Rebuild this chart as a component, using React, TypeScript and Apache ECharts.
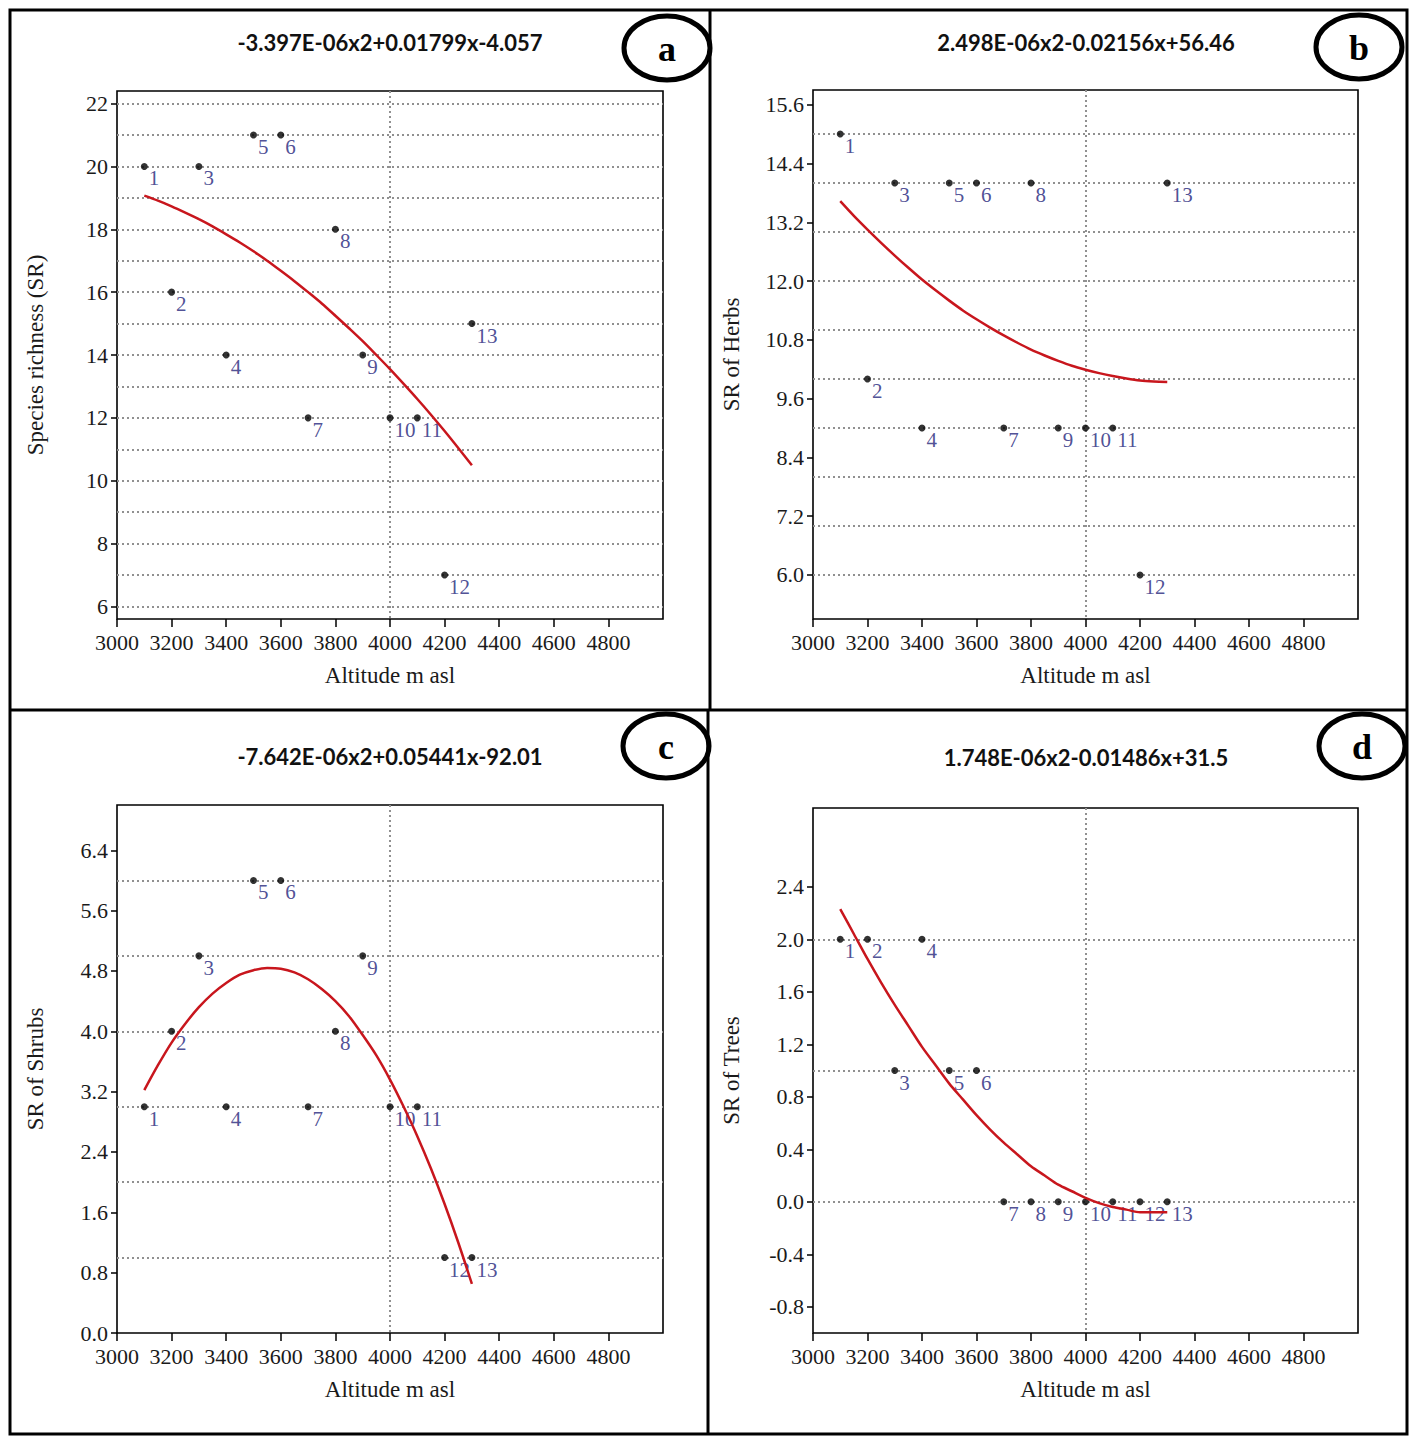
import React, { useEffect, useRef } from "react";
import * as echarts from "echarts";

// ---- data ----
const altitude = [3100, 3200, 3300, 3400, 3500, 3600, 3700, 3800, 3900, 4000, 4100, 4200, 4300];
const sites = ["1", "2", "3", "4", "5", "6", "7", "8", "9", "10", "11", "12", "13"];

const srTotal = [20, 16, 20, 14, 21, 21, 12, 18, 14, 12, 12, 7, 15];
const srHerbs = [15, 10, 14, 9, 14, 14, 9, 14, 9, 9, 9, 6, 14];
const srShrubs = [3, 4, 5, 3, 6, 6, 3, 4, 5, 3, 3, 1, 1];
const srTrees = [2, 2, 1, 2, 1, 1, 0, 0, 0, 0, 0, 0, 0];

// fitted curves, every 50 m
const fitAltitude = [
  3100, 3150, 3200, 3250, 3300, 3350, 3400, 3450, 3500, 3550, 3600, 3650, 3700,
  3750, 3800, 3850, 3900, 3950, 4000, 4050, 4100, 4150, 4200, 4250, 4300,
];
const fitTotal = [
  19.07, 18.91, 18.73, 18.53, 18.32, 18.09, 17.84, 17.58, 17.3, 17.0, 16.68, 16.35, 16.0,
  15.64, 15.25, 14.85, 14.44, 14.0, 13.55, 13.08, 12.6, 12.1, 11.58, 11.04, 10.49,
];
const fitHerbs = [
  13.63, 13.33, 13.05, 12.78, 12.52, 12.27, 12.03, 11.81, 11.6, 11.4, 11.22, 11.05, 10.89,
  10.74, 10.6, 10.48, 10.37, 10.27, 10.19, 10.12, 10.06, 10.01, 9.97, 9.95, 9.94,
];
const fitShrubs = [
  3.22, 3.55, 3.85, 4.1, 4.32, 4.5, 4.64, 4.75, 4.81, 4.84, 4.83, 4.78, 4.69,
  4.56, 4.4, 4.2, 3.95, 3.68, 3.36, 3.0, 2.61, 2.18, 1.71, 1.2, 0.65,
];
const fitTrees = [
  2.23, 2.04, 1.85, 1.67, 1.5, 1.34, 1.18, 1.04, 0.9, 0.78, 0.66, 0.55, 0.45,
  0.36, 0.27, 0.2, 0.13, 0.08, 0.03, -0.01, -0.04, -0.06, -0.08, -0.08, -0.08,
];

const equations = [
  "-3.397E-06x2+0.01799x-4.057",
  "2.498E-06x2-0.02156x+56.46",
  "-7.642E-06x2+0.05441x-92.01",
  "1.748E-06x2-0.01486x+31.5",
];
const panelLetters = ["a", "b", "c", "d"];
const yNames = ["Species richness (SR)", "SR of Herbs", "SR of Shrubs", "SR of Trees"];
const xName = "Altitude m asl";

const xTicks = [3000, 3200, 3400, 3600, 3800, 4000, 4200, 4400, 4600, 4800];
const xGridLines = [4000];

const yTicksA = [6, 8, 10, 12, 14, 16, 18, 20, 22];
const yTicksB = [6.0, 7.2, 8.4, 9.6, 10.8, 12.0, 13.2, 14.4, 15.6];
const yTicksC = [0, 0.8, 1.6, 2.4, 3.2, 4.0, 4.8, 5.6, 6.4];
const yTicksD = [-0.8, -0.4, 0, 0.4, 0.8, 1.2, 1.6, 2.0, 2.4];

const yGridA = [6, 7, 8, 9, 10, 11, 12, 13, 14, 15, 16, 17, 18, 19, 20, 21, 22];
const yGridB = [6, 7, 8, 9, 10, 11, 12, 13, 14, 15];
const yGridC = [1, 2, 3, 4, 5, 6];
const yGridD = [0, 1, 2];

const yRangeA = [5.6, 22.4];
const yRangeB = [5.1, 15.9];
const yRangeC = [0, 7];
const yRangeD = [-1, 3];

// ---- layout ----
const layout = [
  { left: 117, top: 91, width: 546, height: 528, decimals: 0, tx: 390, ty: 42, cx: 667, cy: 48 },
  { left: 813, top: 90, width: 545, height: 529, decimals: 1, tx: 1086, ty: 42, cx: 1359, cy: 47 },
  { left: 117, top: 805, width: 546, height: 528, decimals: 1, tx: 390, ty: 756, cx: 666, cy: 746 },
  { left: 813, top: 808, width: 545, height: 525, decimals: 1, tx: 1086, ty: 757, cx: 1362, cy: 746 },
];

const SERIF = '"Liberation Serif", "Times New Roman", serif';
const SANS = 'Lato, "Open Sans", sans-serif';
const dotted = { color: "#909090", width: 2, type: [2, 3] as number[] };

function buildOption() {
  const values = [srTotal, srHerbs, srShrubs, srTrees];
  const fits = [fitTotal, fitHerbs, fitShrubs, fitTrees];
  const yTicks = [yTicksA, yTicksB, yTicksC, yTicksD];
  const yGrids = [yGridA, yGridB, yGridC, yGridD];
  const yRanges = [yRangeA, yRangeB, yRangeC, yRangeD];

  const grid: any[] = [];
  const xAxis: any[] = [];
  const yAxis: any[] = [];
  const series: any[] = [];
  const graphic: any[] = [];

  layout.forEach((L, i) => {
    grid.push({
      left: L.left,
      top: L.top,
      width: L.width,
      height: L.height,
      show: true,
      borderColor: "#000",
      borderWidth: 1.6,
      backgroundColor: "transparent",
      containLabel: false,
      outerBoundsMode: "none",
    });

    xAxis.push({
      type: "value",
      gridIndex: i,
      min: 3000,
      max: 5000,
      position: "bottom",
      axisLine: { show: false, onZero: false },
      axisTick: {
        show: true,
        inside: false,
        length: 8,
        customValues: xTicks,
        lineStyle: { color: "#000", width: 1.5 },
      },
      axisLabel: {
        show: true,
        customValues: xTicks,
        margin: 12,
        color: "#1a1a1a",
        fontFamily: SERIF,
        fontSize: 22,
        formatter: (v: number) => String(Math.round(v)),
      },
      splitLine: { show: false },
      name: xName,
      nameLocation: "middle",
      nameGap: 45,
      nameMoveOverlap: false,
      nameTextStyle: { color: "#1a1a1a", fontFamily: SERIF, fontSize: 23 },
    });
    xAxis.push({
      type: "value",
      gridIndex: i,
      min: 3000,
      max: 5000,
      position: "bottom",
      axisLine: { show: false, onZero: false },
      axisTick: { show: false, customValues: xGridLines },
      axisLabel: { show: false, customValues: xGridLines },
      splitLine: { show: true, lineStyle: dotted },
    });

    yAxis.push({
      type: "value",
      gridIndex: i,
      min: yRanges[i][0],
      max: yRanges[i][1],
      position: "left",
      axisLine: { show: false, onZero: false },
      axisTick: {
        show: true,
        inside: false,
        length: 6,
        customValues: yTicks[i],
        lineStyle: { color: "#000", width: 1.5 },
      },
      axisLabel: {
        show: true,
        customValues: yTicks[i],
        margin: 9,
        color: "#1a1a1a",
        fontFamily: SERIF,
        fontSize: 22,
        formatter: (v: number) => Number(v).toFixed(L.decimals),
      },
      splitLine: { show: false },
      name: yNames[i],
      nameLocation: "middle",
      nameGap: 70,
      nameMoveOverlap: false,
      nameTextStyle: { color: "#1a1a1a", fontFamily: SERIF, fontSize: 23 },
    });
    yAxis.push({
      type: "value",
      gridIndex: i,
      min: yRanges[i][0],
      max: yRanges[i][1],
      position: "left",
      axisLine: { show: false, onZero: false },
      axisTick: { show: false, customValues: yGrids[i] },
      axisLabel: { show: false, customValues: yGrids[i] },
      splitLine: { show: true, lineStyle: dotted },
    });

    series.push({
      type: "scatter",
      xAxisIndex: 2 * i,
      yAxisIndex: 2 * i,
      data: altitude.map((a, k) => [a, values[i][k]]),
      symbol: "circle",
      symbolSize: 7,
      itemStyle: { color: "#000" },
      label: {
        show: true,
        position: [8, 5],
        formatter: (p: any) => sites[p.dataIndex],
        color: "#23237a",
        fontFamily: SERIF,
        fontSize: 21,
      },
      silent: true,
      z: 3,
    });
    series.push({
      type: "line",
      xAxisIndex: 2 * i,
      yAxisIndex: 2 * i,
      data: fitAltitude.map((a, k) => [a, fits[i][k]]),
      smooth: 0.3,
      symbol: "none",
      showSymbol: false,
      lineStyle: { color: "#c8161d", width: 2.5 },
      silent: true,
      z: 4,
    });

    graphic.push({
      type: "text",
      x: L.tx,
      y: L.ty,
      z: 100,
      style: {
        text: equations[i],
        fill: "#111",
        fontFamily: SANS,
        fontWeight: "bold",
        fontSize: 22,
        align: "center",
        verticalAlign: "middle",
        textAlign: "center",
        textVerticalAlign: "middle",
      },
    });
    graphic.push({
      type: "ellipse",
      z: 100,
      shape: { cx: L.cx, cy: L.cy, rx: 43, ry: 32 },
      style: { fill: "transparent", stroke: "#000", lineWidth: 5 },
    });
    graphic.push({
      type: "text",
      x: L.cx,
      y: L.cy + 1,
      z: 101,
      style: {
        text: panelLetters[i],
        fill: "#000",
        fontFamily: SERIF,
        fontWeight: "bold",
        fontSize: 36,
        align: "center",
        verticalAlign: "middle",
        textAlign: "center",
        textVerticalAlign: "middle",
      },
    });
  });

  // outer panel frames
  graphic.push({
    type: "rect",
    z: 90,
    shape: { x: 10, y: 10, width: 1397, height: 1424 },
    style: { fill: "transparent", stroke: "#000", lineWidth: 3 },
  });
  graphic.push({
    type: "line",
    z: 90,
    shape: { x1: 710, y1: 10, x2: 710, y2: 710 },
    style: { stroke: "#000", lineWidth: 3 },
  });
  graphic.push({
    type: "line",
    z: 90,
    shape: { x1: 708, y1: 710, x2: 708, y2: 1434 },
    style: { stroke: "#000", lineWidth: 3 },
  });
  graphic.push({
    type: "line",
    z: 90,
    shape: { x1: 10, y1: 710, x2: 1407, y2: 710 },
    style: { stroke: "#000", lineWidth: 3 },
  });

  return {
    animation: false,
    backgroundColor: "#ffffff",
    grid,
    xAxis,
    yAxis,
    series,
    graphic,
  };
}

export default function App() {
  const ref = useRef<HTMLDivElement>(null);
  useEffect(() => {
    if (!ref.current) return;
    const chart = echarts.init(ref.current, undefined, { renderer: "svg" });
    chart.setOption(buildOption() as any);
    return () => chart.dispose();
  }, []);
  return (
    <div
      ref={ref}
      style={{ position: "fixed", left: 0, top: 0, width: 1417, height: 1444, background: "#fff" }}
    />
  );
}
